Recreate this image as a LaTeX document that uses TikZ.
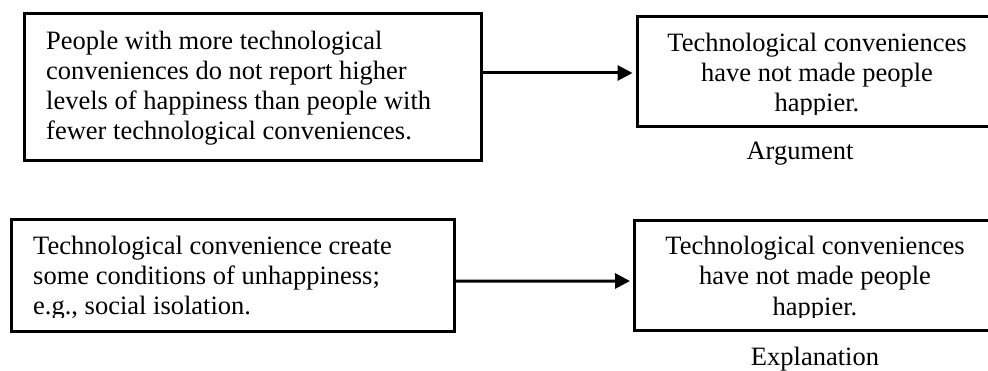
\documentclass[tikz,border=0pt]{standalone}
\usepackage{fontspec}
\setmainfont{Liberation Serif}
\usetikzlibrary{arrows.meta}
\begin{document}
\begin{tikzpicture}[x=1pt,y=-1pt,
  box/.style={draw=black,line width=3pt,rectangle,inner sep=0pt,fill=none},
  txt/.style={inner sep=0pt,font=\fontsize{26.5}{30}\selectfont},
  lline/.style={txt,anchor=base west},
  cline/.style={txt,anchor=base},
  conn/.style={line width=3pt,-{Triangle[length=15pt,width=15pt]}}]
\clip (0,0) rectangle (988,371);
\fill[white] (0,0) rectangle (988,371);
% boxes
\node[box,minimum width=456.5pt,minimum height=147pt] (b1) at (252.75,87.5) {};
\node[box,minimum width=360pt,minimum height=110pt] (b2) at (817,71.5) {};
\node[box,minimum width=442.5pt,minimum height=111.5pt] (b3) at (232.75,275.75) {};
\node[box,minimum width=362pt,minimum height=110pt] (b4) at (815,275.5) {};
% texts box 1
\node[lline] (t11) at (46,50) {People with more technological};
\node[lline] (t12) at (46,80) {conveniences do not report higher};
\node[lline] (t13) at (46,110) {levels of happiness than people with};
\node[lline] (t14) at (46,140) {fewer technological conveniences.};
% texts box 2
\node[cline] (t21) at (817,52) {Technological conveniences};
\node[cline] (t22) at (817,82) {have not made people};
\begin{scope}
\clip (640,90) rectangle (990,115);
\node[cline] (t23) at (817,112) {happier.};
\end{scope}
\node[cline] (arg) at (800,160) {Argument};
% texts box 3
\node[lline] (t31) at (33,255) {Technological convenience create};
\node[lline] (t32) at (33,285) {some conditions of unhappiness;};
\begin{scope}
\clip (15,290) rectangle (450,318);
\node[lline] (t33) at (33,315) {e.g., social isolation.};
\end{scope}
% texts box 4
\node[cline] (t41) at (815,255) {Technological conveniences};
\node[cline] (t42) at (815,285) {have not made people};
\begin{scope}
\clip (640,290) rectangle (990,318);
\node[cline] (t43) at (815,316) {happier.};
\end{scope}
\node[cline] (expl) at (815,365) {Explanation};
% connectors
\draw[conn,shorten >=3pt] ([yshift=-1.5pt]b2.west -| b1.east) -- ([yshift=-1.5pt]b2.west);
\draw[conn,shorten >=2.5pt] ([yshift=-5.5pt]b3.east) -- ([yshift=-5.5pt]b4.west -| b4.west);
\end{tikzpicture}
\end{document}
